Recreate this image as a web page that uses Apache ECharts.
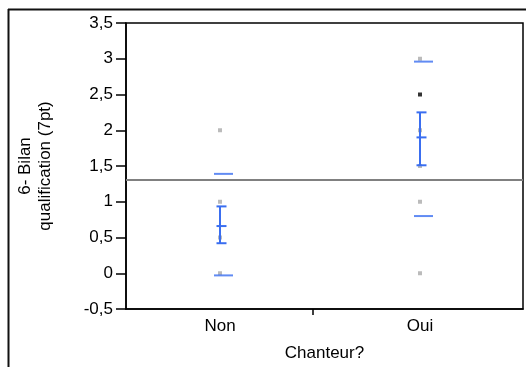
<!DOCTYPE html>
<html>
<head>
<meta charset="utf-8">
<script src="https://cdn.jsdelivr.net/npm/echarts@6/dist/echarts.min.js"></script>
<style>
  html, body { margin: 0; padding: 0; background: #fff; }
  #chart { width: 526px; height: 367px; }
</style>
</head>
<body>
<div id="chart"></div>
<script>
// ----------data----------
const categories = ['Non', 'Oui'];
const categoryPos = [1, 2];
// raw observations (gray)
const pointsNon = [2, 1, 0.5, 0];
const pointsOui = [3, 2, 1.5, 1, 0];
// stacked observation shown in black
const pointsOuiDark = [2.5];
// mean and standard error
const means = [0.66, 1.9];
const errLow = [0.42, 1.51];
const errHigh = [0.935, 2.25];
// mean +/- standard deviation
const sdHigh = [1.39, 2.96];
const sdLow = [-0.03, 0.8];
// grand mean
const grandMean = 1.31;
// y ticks
const yMin = -0.5;
const yMax = 3.5;
const yStep = 0.5;
// ------------------------

const font = 'Liberation Sans, Arial, sans-serif';
const blue = '#3a6ef0';

const chart = echarts.init(document.getElementById('chart'));

const rawData = [];
pointsNon.forEach(v => rawData.push([categoryPos[0], v]));
pointsOui.forEach(v => rawData.push([categoryPos[1], v]));

const sdData = [];
categoryPos.forEach((x, i) => {
  sdData.push([x, sdHigh[i]]);
  sdData.push([x, sdLow[i]]);
});

const errData = categoryPos.map((x, i) => [x, errLow[i], means[i], errHigh[i]]);

const option = {
  animation: false,
  backgroundColor: '#fff',
  grid: {
    left: 126,
    right: 3,
    top: 23,
    bottom: 58,
    show: true,
    borderColor: '#000',
    borderWidth: 1.5,
  },
  graphic: [
    { type: 'line', shape: { x1: 8.5, y1: 9, x2: 8.5, y2: 367 }, style: { stroke: '#111', lineWidth: 2 } },
    { type: 'line', shape: { x1: 8, y1: 9.5, x2: 526, y2: 9.5 }, style: { stroke: '#111', lineWidth: 2 } },
  ],
  xAxis: {
    type: 'value',
    min: 0.53,
    max: 2.515,
    name: 'Chanteur?',
    nameLocation: 'middle',
    nameGap: 36,
    nameTextStyle: { fontFamily: font, fontSize: 17, color: '#000', verticalAlign: 'top' },
    splitLine: { show: false },
    axisLine: { onZero: false, lineStyle: { color: '#000', width: 1.5 } },
    axisTick: { show: true, customValues: [1.465], length: 6, lineStyle: { color: '#000', width: 1.5 } },
    axisLabel: {
      customValues: categoryPos,
      margin: 9,
      fontFamily: font,
      fontSize: 17,
      color: '#000',
      formatter: v => categories[categoryPos.indexOf(v)] || '',
    },
  },
  yAxis: {
    type: 'value',
    min: yMin,
    max: yMax,
    interval: yStep,
    name: '6- Bilan\nqualification (7pt)',
    nameLocation: 'middle',
    nameGap: 71,
    nameTextStyle: { fontFamily: font, fontSize: 17, lineHeight: 20, color: '#000' },
    splitLine: { show: false },
    axisLine: { show: true, onZero: false, lineStyle: { color: '#000', width: 1.5 } },
    axisTick: { show: true, length: 10, lineStyle: { color: '#000', width: 1.5 } },
    axisLabel: {
      margin: 13,
      fontFamily: font,
      fontSize: 17,
      color: '#000',
      formatter: v => String(v).replace('.', ','),
    },
  },
  series: [
    {
      name: 'obs',
      type: 'scatter',
      symbol: 'rect',
      symbolSize: 4,
      itemStyle: { color: '#aaaaaa' },
      data: rawData,
      z: 3,
      markLine: {
        symbol: 'none',
        silent: true,
        label: { show: false },
        lineStyle: { color: '#808080', width: 2, type: 'solid' },
        data: [{ yAxis: grandMean }],
      },
    },
    {
      name: 'obsDark',
      type: 'scatter',
      symbol: 'rect',
      symbolSize: 4,
      itemStyle: { color: '#000' },
      data: pointsOuiDark.map(v => [categoryPos[1], v]),
      z: 3,
    },
    {
      name: 'sd',
      type: 'scatter',
      symbol: 'rect',
      symbolSize: [19, 2],
      symbolOffset: [3.5, 0],
      itemStyle: { color: blue },
      data: sdData,
      z: 4,
    },
    {
      name: 'err',
      type: 'custom',
      z: 5,
      data: errData,
      renderItem: (params, api) => {
        const x = api.value(0);
        const lo = api.coord([x, api.value(1)]);
        const mid = api.coord([x, api.value(2)]);
        const hi = api.coord([x, api.value(3)]);
        const style = { stroke: blue, lineWidth: 2 };
        const seg = (x1, y1, x2, y2) => ({ type: 'line', shape: { x1, y1, x2, y2 }, style });
        return {
          type: 'group',
          children: [
            seg(lo[0], lo[1], hi[0], hi[1]),
            seg(hi[0] - 3.5, hi[1], hi[0] + 6.5, hi[1]),
            seg(lo[0] - 3.5, lo[1], lo[0] + 6.5, lo[1]),
            seg(mid[0] - 3.5, mid[1], mid[0] + 6.5, mid[1]),
          ],
        };
      },
    },
  ],
};

chart.setOption(option);
</script>
</body>
</html>
